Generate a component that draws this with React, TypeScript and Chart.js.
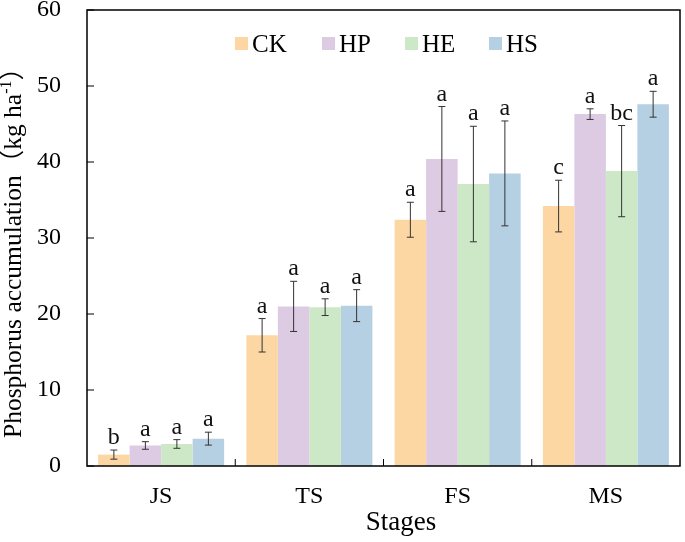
import React, { useEffect, useRef } from 'react';
import Chart from 'chart.js/auto';

const stages = ['JS', 'TS', 'FS', 'MS'];
const seriesNames = ['CK', 'HP', 'HE', 'HS'];
const seriesColors = ['#FDD7A3', '#DDCBE4', '#CDE8C7', '#B5CFE3'];
const ckValues = [1.5, 17.2, 32.4, 34.2];
const ckErrors = [0.6, 2.2, 2.3, 3.4];
const ckLetters = ['b', 'a', 'a', 'c'];
const hpValues = [2.7, 21.0, 40.4, 46.3];
const hpErrors = [0.5, 3.3, 6.9, 0.7];
const hpLetters = ['a', 'a', 'a', 'a'];
const heValues = [2.9, 20.9, 37.1, 38.8];
const heErrors = [0.57, 1.1, 7.6, 6.0];
const heLetters = ['a', 'a', 'a', 'bc'];
const hsValues = [3.6, 21.1, 38.5, 47.6];
const hsErrors = [0.85, 2.1, 6.9, 1.7];
const hsLetters = ['a', 'a', 'a', 'a'];
const yTickValues = [0, 10, 20, 30, 40, 50, 60];
const yTitleMain = 'Phosphorus accumulation（kg ha';
const yTitleSup = '-1';
const yTitleEnd = '）';
const xTitle = 'Stages';

const allValues = [ckValues, hpValues, heValues, hsValues];
const allErrors = [ckErrors, hpErrors, heErrors, hsErrors];
const allLetters = [ckLetters, hpLetters, heLetters, hsLetters];

const SERIF = "'Liberation Serif', 'Times New Roman', 'Noto Sans CJK SC', serif";

const decorPlugin = {
  id: 'decor',
  afterDatasetsDraw(chart: any) {
    const ctx = chart.ctx;
    const y = chart.scales.y;
    ctx.save();
    chart.data.datasets.forEach((ds: any, di: number) => {
      const meta = chart.getDatasetMeta(di);
      meta.data.forEach((bar: any, i: number) => {
        const v = allValues[di][i];
        const e = allErrors[di][i];
        const yTop = y.getPixelForValue(v + e);
        const yBot = y.getPixelForValue(v - e);
        const x = bar.x;
        ctx.strokeStyle = '#333';
        ctx.lineWidth = 1;
        ctx.beginPath();
        ctx.moveTo(x, yTop);
        ctx.lineTo(x, yBot);
        ctx.moveTo(x - 3.5, yTop);
        ctx.lineTo(x + 3.5, yTop);
        ctx.moveTo(x - 3.5, yBot);
        ctx.lineTo(x + 3.5, yBot);
        ctx.stroke();
        ctx.fillStyle = '#111';
        ctx.font = `24px ${SERIF}`;
        ctx.textAlign = 'center';
        ctx.textBaseline = 'alphabetic';
        ctx.fillText(allLetters[di][i], x, yTop - 6);
      });
    });
    ctx.restore();
  },
  afterDraw(chart: any) {
    const ctx = chart.ctx;
    const { left, right, top, bottom } = chart.chartArea;
    const xs = chart.scales.x;
    const ys = chart.scales.y;
    ctx.save();
    ctx.strokeStyle = '#000';
    ctx.lineWidth = 1.5;
    ctx.strokeRect(left, top, right - left, bottom - top);
    ctx.lineWidth = 1;
    yTickValues.forEach((t) => {
      const py = ys.getPixelForValue(t);
      ctx.beginPath();
      ctx.moveTo(left, py);
      ctx.lineTo(left + 7, py);
      ctx.stroke();
    });
    for (let i = 0; i < stages.length - 1; i++) {
      const px = (xs.getPixelForValue(i) + xs.getPixelForValue(i + 1)) / 2;
      ctx.beginPath();
      ctx.moveTo(px, bottom);
      ctx.lineTo(px, bottom - 7);
      ctx.stroke();
    }
    const legendX = [235, 322, 405, 489];
    ctx.font = `25px ${SERIF}`;
    ctx.textBaseline = 'alphabetic';
    ctx.textAlign = 'left';
    seriesNames.forEach((n, i) => {
      ctx.fillStyle = seriesColors[i];
      ctx.fillRect(legendX[i], 37, 13, 13);
      ctx.fillStyle = '#000';
      ctx.fillText(n, legendX[i] + 17, 52);
    });
    ctx.textAlign = 'center';
    ctx.textBaseline = 'alphabetic';
    ctx.font = `27px ${SERIF}`;
    ctx.fillText(xTitle, 401, 530);
    const mainFont = `25.5px ${SERIF}`;
    const supFont = `16px ${SERIF}`;
    ctx.font = mainFont;
    const w1 = ctx.measureText(yTitleMain).width;
    const w3 = ctx.measureText(yTitleEnd).width;
    ctx.font = supFont;
    const w2 = ctx.measureText(yTitleSup).width;
    const total = w1 + w2 + w3;
    ctx.translate(21, 246.5);
    ctx.rotate(-Math.PI / 2);
    ctx.textAlign = 'left';
    ctx.textBaseline = 'alphabetic';
    let cx = -total / 2;
    ctx.font = mainFont;
    ctx.fillText(yTitleMain, cx, 0);
    cx += w1;
    ctx.font = supFont;
    ctx.fillText(yTitleSup, cx, -10);
    cx += w2;
    ctx.font = mainFont;
    ctx.fillText(yTitleEnd, cx, 0);
    ctx.restore();
  },
};

export default function App() {
  const ref = useRef<HTMLCanvasElement | null>(null);
  useEffect(() => {
    if (!ref.current) return;
    const chart = new Chart(ref.current, {
      type: 'bar',
      data: {
        labels: stages,
        datasets: seriesNames.map((n, i) => ({
          label: n,
          data: allValues[i],
          backgroundColor: seriesColors[i],
          borderWidth: 0,
          categoryPercentage: 0.85,
          barPercentage: 1.0,
        })),
      },
      options: {
        animation: false,
        responsive: false,
        devicePixelRatio: 1,
        layout: { padding: { top: 10, right: 5, left: 0, bottom: 0 } },
        plugins: { legend: { display: false }, tooltip: { enabled: false } },
        scales: {
          x: {
            grid: { display: false, drawTicks: false },
            border: { display: false },
            ticks: { color: '#000', font: { family: SERIF, size: 24 }, padding: 16 },
            afterFit: (s: any) => { s.height = 76; s.paddingLeft = 0; s.paddingRight = 0; },
          },
          y: {
            min: 0,
            max: 60,
            grid: { display: false, drawTicks: false },
            border: { display: false },
            ticks: { stepSize: 10, color: '#000', font: { family: SERIF, size: 24 }, padding: 26 },
            afterFit: (s: any) => { s.width = 87; s.paddingTop = 0; s.paddingBottom = 0; },
          },
        },
      },
      plugins: [decorPlugin],
    });
    return () => chart.destroy();
  }, []);
  return (
    <div style={{ position: 'absolute', left: 0, top: 0, width: 685, height: 542, background: '#fff' }}>
      <canvas ref={ref} width={685} height={542} />
    </div>
  );
}
